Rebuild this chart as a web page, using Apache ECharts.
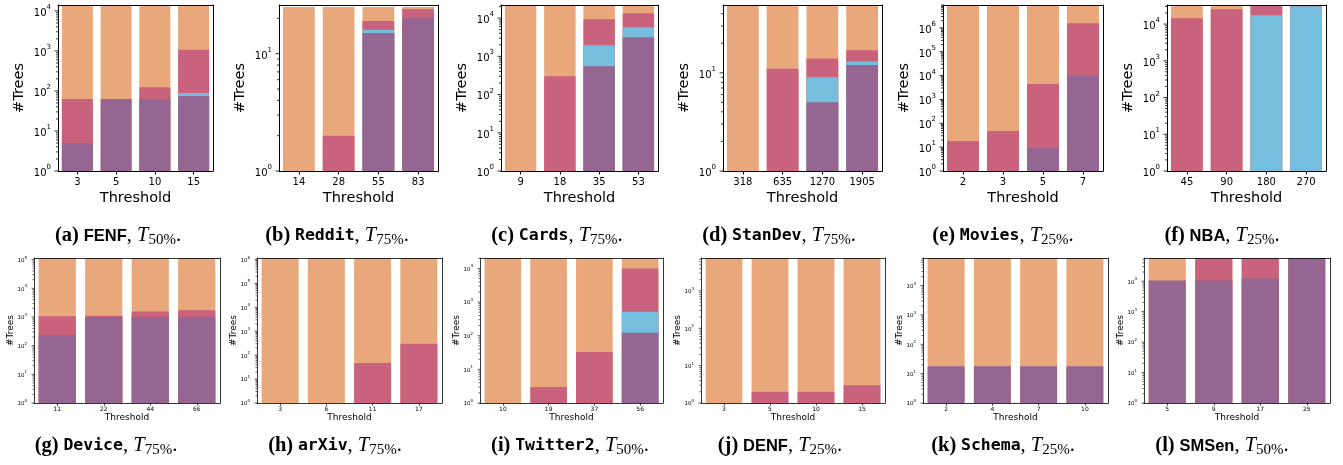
<!DOCTYPE html>
<html><head><meta charset="utf-8">
<script src="https://cdn.jsdelivr.net/npm/echarts@6/dist/echarts.min.js"></script>
<style>html,body{margin:0;padding:0;background:#fff}#c{width:1343px;height:465px}</style>
</head><body><div id="c"></div>
<script>
// ===== DATA (cumulative band tops; null = band absent) =====
// (a) FENF
const fenfThreshold = ['3', '5', '10', '15'];
const fenfPurple = [5, 63, 63, 75];
const fenfBlue   = [null, null, null, 89];
const fenfPink   = [63, null, 124, 1060];
const fenfTotal  = [14000, 14000, 14000, 14000];
const fenfYMax = 14000;
// (b) Reddit
const redditThreshold = ['14', '28', '55', '83'];
const redditPurple = [null, null, 15, 20];
const redditBlue   = [null, null, 16, null];
const redditPink   = [null, 2, 19, 24];
const redditTotal  = [25, 25, 25, 25];
const redditYMax = 26;
// (c) Cards
const cardsThreshold = ['9', '18', '35', '53'];
const cardsPurple = [null, null, 550, 3150];
const cardsBlue   = [null, null, 1950, 5750];
const cardsPink   = [null, 300, 9300, 13300];
const cardsTotal  = [22000, 22000, 22000, 22000];
const cardsYMax = 22000;
// (d) StanDev
const stanDevThreshold = ['318', '635', '1270', '1905'];
const stanDevPurple = [null, null, 5, 12];
const stanDevBlue   = [null, null, 9, 13];
const stanDevPink   = [null, 11, 14, 17];
const stanDevTotal  = [49, 49, 49, 49];
const stanDevYMax = 49;
// (e) Movies
const moviesThreshold = ['2', '3', '5', '7'];
const moviesPurple = [null, null, 9, 10000];
const moviesBlue   = [null, null, null, null];
const moviesPink   = [18, 47, 4400, 1560000];
const moviesTotal  = [9100000, 9100000, 9100000, 9100000];
const moviesYMax = 9100000;
// (f) NBA
const nbaThreshold = ['45', '90', '180', '270'];
const nbaPurple = [null, null, null, null];
const nbaBlue   = [null, null, 17300, 30400];
const nbaPink   = [14300, 25300, 33000, 33000];
const nbaTotal  = [33000, 33000, 33000, 33000];
const nbaYMax = 33000;
// (g) Device
const deviceThreshold = ['11', '22', '44', '66'];
const devicePurple = [230, 1000, 1000, 1000];
const deviceBlue   = [null, null, null, null];
const devicePink   = [1050, 1100, 1550, 1700];
const deviceTotal  = [114000, 114000, 114000, 114000];
const deviceYMax = 114000;
// (h) arXiv
const arxivThreshold = ['3', '6', '11', '17'];
const arxivPurple = [null, null, null, null];
const arxivBlue   = [null, null, null, null];
const arxivPink   = [null, null, 47, 300];
const arxivTotal  = [1150000, 1150000, 1150000, 1150000];
const arxivYMax = 1150000;
// (i) Twitter2
const twitter2Threshold = ['10', '19', '37', '56'];
const twitter2Purple = [null, null, null, 122];
const twitter2Blue   = [null, null, null, 517];
const twitter2Pink   = [null, 3, 33, 10000];
const twitter2Total  = [20400, 20400, 20400, 20400];
const twitter2YMax = 20400;
// (j) DENF
const denfThreshold = ['3', '5', '10', '15'];
const denfPurple = [null, null, null, null];
const denfBlue   = [null, null, null, null];
const denfPink   = [null, 2, 2, 3];
const denfTotal  = [7600, 7600, 7600, 7600];
const denfYMax = 7600;
// (k) Schema
const schemaThreshold = ['2', '4', '7', '10'];
const schemaPurple = [18, 18, 18, 18];
const schemaBlue   = [null, null, null, null];
const schemaPink   = [null, null, null, null];
const schemaTotal  = [86500, 86500, 86500, 86500];
const schemaYMax = 86500;
// (l) SMSen
const smsenThreshold = ['5', '9', '17', '25'];
const smsenPurple = [10500, 10500, 12300, 57600];
const smsenBlue   = [null, null, null, null];
const smsenPink   = [null, 57600, 57600, null];
const smsenTotal  = [57600, 57600, 57600, 57600];
const smsenYMax = 57600;

// captions
const captionLetters = ['a','b','c','d','e','f','g','h','i','j','k','l'];
const captionNames = ['FENF','Reddit','Cards','StanDev','Movies','NBA','Device','arXiv','Twitter2','DENF','Schema','SMSen'];
const captionMono = [false,true,true,true,true,false,true,true,true,false,true,false];
const captionPct = ['50%','75%','75%','75%','25%','25%','75%','75%','50%','25%','25%','50%'];

const panels = [
  [fenfThreshold, fenfPurple, fenfBlue, fenfPink, fenfTotal, fenfYMax],
  [redditThreshold, redditPurple, redditBlue, redditPink, redditTotal, redditYMax],
  [cardsThreshold, cardsPurple, cardsBlue, cardsPink, cardsTotal, cardsYMax],
  [stanDevThreshold, stanDevPurple, stanDevBlue, stanDevPink, stanDevTotal, stanDevYMax],
  [moviesThreshold, moviesPurple, moviesBlue, moviesPink, moviesTotal, moviesYMax],
  [nbaThreshold, nbaPurple, nbaBlue, nbaPink, nbaTotal, nbaYMax],
  [deviceThreshold, devicePurple, deviceBlue, devicePink, deviceTotal, deviceYMax],
  [arxivThreshold, arxivPurple, arxivBlue, arxivPink, arxivTotal, arxivYMax],
  [twitter2Threshold, twitter2Purple, twitter2Blue, twitter2Pink, twitter2Total, twitter2YMax],
  [denfThreshold, denfPurple, denfBlue, denfPink, denfTotal, denfYMax],
  [schemaThreshold, schemaPurple, schemaBlue, schemaPink, schemaTotal, schemaYMax],
  [smsenThreshold, smsenPurple, smsenBlue, smsenPink, smsenTotal, smsenYMax]
];

// ===== LAYOUT / STYLE =====
const COL = {orange: '#E9A87C', pink: '#C9637D', blue: '#76BEDD', purple: '#946691'};
const plotX = [[58,213],[279,438],[501,658],[723,882],[943,1103],[1167,1326],
               [34,220],[257,442],[480,663],[701,885],[923,1108],[1144,1330]];
const captionX = [118,337,557,779,1003,1222,106,335,570,780,1003,1222];
const rowStyle = [
  {top:5, height:166, capY:236, xls:10, xlm:6, yb:10, ys:7, ylm:7, ns:14.5, xng:20, yng:31, maj:3.5, min:2, lw:1},
  {top:258, height:145, capY:446, xls:6, xlm:3, yb:5.5, ys:4, ylm:7, ns:9, xng:10.5, yng:19, maj:2.5, min:1.5, lw:0.8}
];
const AXF = 'DejaVu Sans';

const grid = [], xAxis = [], yAxis = [], series = [], graphic = [];

function isPow10(v) { const l = Math.log10(v); return Math.abs(l - Math.round(l)) < 1e-6; }

panels.forEach((p, i) => {
  const [cats, purple, blue, pink, total, yMax] = p;
  const st = rowStyle[i < 6 ? 0 : 1];
  const [L, R] = plotX[i];
  grid.push({left: L, top: st.top, width: R - L, height: st.height, containLabel: false});
  const line = {show: true, lineStyle: {color: '#000', width: st.lw}};
  xAxis.push({
    type: 'category', gridIndex: i, data: cats, position: 'bottom', z: 10,
    axisLine: line,
    axisTick: {show: true, alignWithLabel: true, length: st.maj, lineStyle: {color: '#000', width: st.lw}},
    axisLabel: {fontFamily: AXF, fontSize: st.xls, color: '#000', margin: st.xlm, interval: 0},
    name: 'Threshold', nameLocation: 'middle', nameGap: st.xng, nameMoveOverlap: false,
    nameTextStyle: {fontFamily: AXF, fontSize: st.ns, color: '#000'}
  });
  xAxis.push({
    type: 'category', gridIndex: i, data: cats, position: 'top', z: 10,
    axisLine: line, axisTick: {show: false}, axisLabel: {show: false}
  });
  yAxis.push({
    type: 'log', logBase: 10, gridIndex: i, min: 1, max: yMax, position: 'left', z: 10,
    axisLine: line, axisTick: {show: false}, splitLine: {show: false}, minorTick: {show: false},
    axisLabel: {
      margin: st.ylm, showMinLabel: true, showMaxLabel: true, color: '#000',
      formatter: v => isPow10(v) ? '{b|10}{s|' + Math.round(Math.log10(v)) + '}' : '',
      rich: {
        b: {fontFamily: AXF, fontSize: st.yb, lineHeight: st.yb * 1.45, verticalAlign: 'bottom', color: '#000'},
        s: {fontFamily: AXF, fontSize: st.ys, lineHeight: st.ys * 1.1, verticalAlign: 'top', color: '#000'}
      }
    },
    name: '#Trees', nameLocation: 'middle', nameGap: st.yng, nameRotate: 90, nameMoveOverlap: false,
    nameTextStyle: {fontFamily: AXF, fontSize: st.ns, color: '#000'}
  });
  yAxis.push({
    type: 'log', logBase: 10, gridIndex: i, min: 1, max: yMax, position: 'right', z: 10,
    axisLine: line, axisTick: {show: false}, axisLabel: {show: false}, splitLine: {show: false}
  });
  const xi = 2 * i, yi = 2 * i;
  const bands = [[total, COL.orange], [pink, COL.pink], [blue, COL.blue], [purple, COL.purple]];
  bands.forEach(([vals, color]) => {
    series.push({
      type: 'bar', xAxisIndex: xi, yAxisIndex: yi, data: vals,
      barWidth: '80%', barGap: '-100%', itemStyle: {color: color},
      silent: true, emphasis: {disabled: true}, z: 2
    });
  });
  // y-axis tick marks (major at powers of ten, minor at 2..9 x 10^k)
  const ticks = [];
  for (let k = 0; Math.pow(10, k) <= yMax * 1.0000001; k++) {
    for (let m = 1; m <= 9; m++) {
      const v = m * Math.pow(10, k);
      if (v <= yMax) ticks.push([0, v, m === 1 ? 1 : 0]);
    }
  }
  series.push({
    type: 'custom', xAxisIndex: xi, yAxisIndex: yi, data: ticks, silent: true, clip: false, z: 10,
    encode: {x: 0, y: 1},
    renderItem: (params, api) => {
      const v = api.value(1);
      const major = api.value(2) === 1;
      const pt = api.coord([0, v]);
      const x0 = params.coordSys.x;
      const len = major ? st.maj : st.min;
      return {type: 'line', shape: {x1: x0 - len, y1: pt[1], x2: x0, y2: pt[1]},
              style: {stroke: '#000', lineWidth: st.lw * 0.8}};
    }
  });
  // caption
  const nameFont = captionMono[i] ? 'DejaVu Sans Mono' : 'Liberation Sans';
  graphic.push({
    type: 'text', x: captionX[i], y: st.capY, z: 100,
    style: {
      text: '{p|(' + captionLetters[i] + ')}{sp| }{n|' + captionNames[i] + '}{c|, }{t|T}{s|' + captionPct[i] + '}{c|.}',
      align: 'center', verticalAlign: 'middle', fill: '#000', fontSize: 18,
      rich: {
        p: {fontFamily: 'Liberation Serif', fontWeight: 'bold', fontSize: 20.5, lineHeight: 23, fill: '#000'},
        sp: {fontFamily: 'Liberation Serif', fontSize: 19, lineHeight: 23},
        n: {fontFamily: nameFont, fontWeight: 'bold', fontSize: 16.5, lineHeight: 23, fill: '#000'},
        c: {fontFamily: 'Liberation Serif', fontSize: 20.5, lineHeight: 23, fill: '#000'},
        t: {fontFamily: 'Liberation Serif', fontStyle: 'italic', fontSize: 20.5, lineHeight: 23, fill: '#000'},
        s: {fontFamily: 'Liberation Serif', fontSize: 15, lineHeight: 14, verticalAlign: 'bottom', fill: '#000'}
      }
    }
  });
});

const chart = echarts.init(document.getElementById('c'), null, {renderer: 'canvas'});
chart.setOption({animation: false, grid, xAxis, yAxis, series, graphic, tooltip: {show: false}});
</script>
</body></html>
